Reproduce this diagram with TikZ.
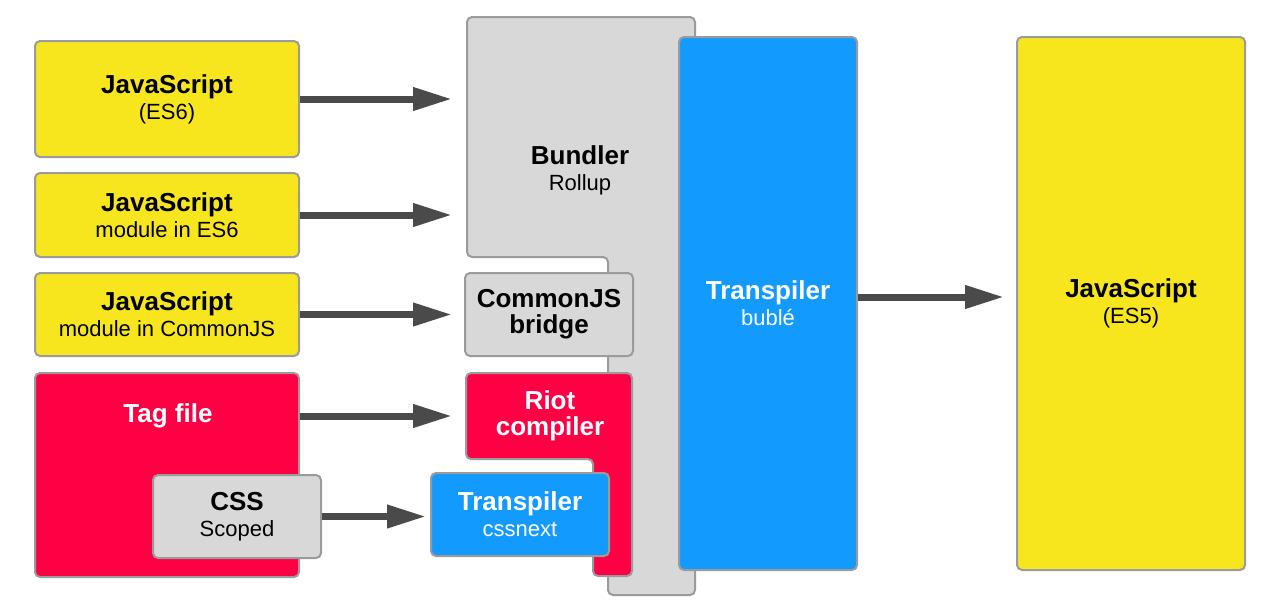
\documentclass[tikz,border=0pt]{standalone}
\usepackage{fontspec}
\setmainfont{Liberation Sans}
\usetikzlibrary{arrows.meta}
\definecolor{jsyellow}{RGB}{247,230,30}
\definecolor{riotred}{RGB}{255,0,68}
\definecolor{transblue}{RGB}{19,154,255}
\definecolor{boxgray}{RGB}{216,216,216}
\definecolor{edgegray}{RGB}{155,155,155}
\definecolor{arrowgray}{RGB}{74,74,74}
\newcommand{\hd}[1]{{\fontsize{26}{26}\selectfont\bfseries #1}}
\begin{document}
\begin{tikzpicture}[x=1pt,y=-1pt,
  box/.style={draw=edgegray,line width=2pt,rounded corners=5pt,inner sep=0pt,align=center,font=\fontsize{22}{26}\selectfont},
  arr/.style={arrowgray,line width=7pt,-{Triangle[length=39pt,width=22pt]}}]
\useasboundingbox (0,0) rectangle (1276,614);
% inputs
\node [box,fill=jsyellow,minimum width=264,minimum height=116] (js6) at (167,99) {\hd{JavaScript}\\(ES6)};
\node [box,fill=jsyellow,minimum width=264,minimum height=84] (mod6) at (167,215) {\hd{JavaScript}\\module in ES6};
\node [box,fill=jsyellow,minimum width=264,minimum height=83] (modcjs) at (167,314.5) {\hd{JavaScript}\\module in CommonJS};
\node [box,fill=riotred,minimum width=264,minimum height=204] (tag) at (167,475) {};
\node [text=white] (tagtext) at (168,416) {\hd{Tag file}};
\node [box,fill=boxgray,minimum width=168,minimum height=83] (css) at (237,516.5) {\hd{CSS}\\Scoped};
% tools
\draw [edgegray,line width=2pt,fill=boxgray,rounded corners=5pt] (467,17) -- (695,17) -- (695,595) -- (608,595) -- (608,257) -- (467,257) -- cycle;
\coordinate (bundleredge) at (467,17);
\node [box,draw=none] (bundler) at (580,170) {\hd{Bundler}\\Rollup};
\node [box,fill=boxgray,minimum width=168,minimum height=83] (bridge) at (549,314.5) {\hd{CommonJS}\\\hd{bridge}};
\draw [edgegray,line width=2pt,fill=riotred,rounded corners=5pt] (466,373) -- (632,373) -- (632,576) -- (593,576) -- (593,459) -- (466,459) -- cycle;
\node [box,draw=none,text=white] (riot) at (550,416) {\hd{Riot}\\\hd{compiler}};
\node [box,fill=transblue,text=white,minimum width=178,minimum height=83] (cssnext) at (520,514.5) {\hd{Transpiler}\\cssnext};
\node [box,fill=transblue,text=white,minimum width=178,minimum height=533] (buble) at (768,303.5) {\hd{Transpiler}\\bublé};
% output
\node [box,fill=jsyellow,minimum width=228,minimum height=533] (es5) at (1131,303.5) {\hd{JavaScript}\\(ES5)};
% arrows
\draw [arr,shorten >=15pt] (js6.east) -- (js6.east -| bundleredge);
\draw [arr,shorten >=15pt] (mod6.east) -- (mod6.east -| bundleredge);
\draw [arr,shorten >=15pt] (modcjs.east) -- (modcjs.east -| bundleredge);
\draw [arr,shorten >=15pt] (tagtext -| tag.east) -- (tagtext -| bundleredge);
\draw [arr,shorten >=4pt] (css.east) -- (css.east -| cssnext.west);
\draw [arr,shorten >=12pt] ([yshift=6.5pt]buble.east) -- ([yshift=6.5pt]buble.east -| es5.west);
\end{tikzpicture}
\end{document}
